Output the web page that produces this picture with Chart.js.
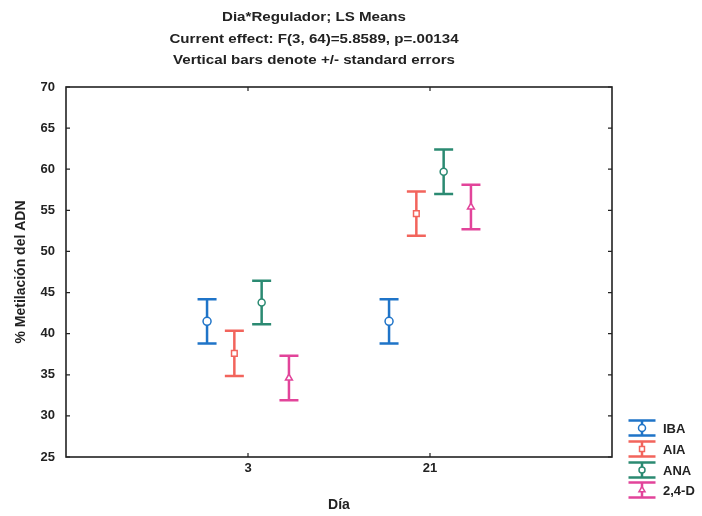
<!DOCTYPE html>
<html>
<head>
<meta charset="utf-8">
<script src="https://cdn.jsdelivr.net/npm/chart.js@4/dist/chart.umd.min.js"></script>
<style>
  html, body { margin: 0; padding: 0; background: #fff; }
  #wrap { width: 702px; height: 516px; }
</style>
</head>
<body>
<div id="wrap"><canvas id="c" width="702" height="516"></canvas></div>
<script>
// Día (categories) and regulators (series)
const days = ['3', '21'];
const regulators = ['IBA', 'AIA', 'ANA', '2,4-D'];

// LS means of % DNA methylation, one value per day
const meanIBA = [41.5, 41.5];
const meanAIA = [37.6, 54.6];
const meanANA = [43.8, 59.7];
const meanD24 = [34.6, 55.4];

// standard errors, one value per day
const seIBA = [2.7, 2.7];
const seAIA = [2.75, 2.7];
const seANA = [2.65, 2.7];
const seD24 = [2.7, 2.7];

// y axis tick values
const yTicks = [25, 30, 35, 40, 45, 50, 55, 60, 65, 70];

const titleLines = [
  'Dia*Regulador; LS Means',
  'Current effect: F(3, 64)=5.8589, p=.00134',
  'Vertical bars denote +/- standard errors'
];

const means = [meanIBA, meanAIA, meanANA, meanD24];
const errors = [seIBA, seAIA, seANA, seD24];
const colors = ['#1f74c8', '#f2645c', '#2b8a72', '#e2449a'];
const markers = ['circle', 'rect', 'circle', 'triangle'];
const markerRadius = [4, 4, 3.5, 4];
const dodge = [-0.225, -0.075, 0.075, 0.225];

const FONT = '"Liberation Sans", Arial, sans-serif';
const INK = '#222';

const datasets = regulators.map((name, k) => ({
  label: name,
  data: days.map((d, i) => ({ x: i + 1 + dodge[k], y: means[k][i], se: errors[k][i] })),
  pointStyle: markers[k],
  pointRadius: markerRadius[k],
  pointBorderWidth: 1.5,
  borderColor: colors[k],
  backgroundColor: '#fff',
  showLine: false
}));

function drawMarker(ctx, style, x, y, r, color) {
  ctx.save();
  ctx.fillStyle = '#fff';
  ctx.strokeStyle = color;
  ctx.lineWidth = 1.5;
  Chart.helpers.drawPoint(ctx, { pointStyle: style, rotation: 0, radius: r, borderWidth: 1.5 }, x, y);
  ctx.restore();
}

// vertical error bars, drawn under the markers
const errorBars = {
  id: 'errorBars',
  beforeDatasetsDraw(chart) {
    const ctx = chart.ctx;
    const ys = chart.scales.y;
    chart.data.datasets.forEach((ds, k) => {
      const meta = chart.getDatasetMeta(k);
      meta.data.forEach((pt, i) => {
        const p = ds.data[i];
        const top = ys.getPixelForValue(p.y + p.se);
        const bot = ys.getPixelForValue(p.y - p.se);
        ctx.save();
        ctx.strokeStyle = ds.borderColor;
        ctx.lineWidth = 2.5;
        ctx.beginPath();
        ctx.moveTo(pt.x, top); ctx.lineTo(pt.x, bot);
        ctx.moveTo(pt.x - 9.5, top); ctx.lineTo(pt.x + 9.5, top);
        ctx.moveTo(pt.x - 9.5, bot); ctx.lineTo(pt.x + 9.5, bot);
        ctx.stroke();
        ctx.restore();
      });
    });
  }
};

// boxed frame with inward tick marks, title block and legend
const decorations = {
  id: 'decorations',
  afterDraw(chart) {
    const ctx = chart.ctx;
    const a = chart.chartArea;
    const xs = chart.scales.x, ys = chart.scales.y;

    ctx.save();
    ctx.strokeStyle = INK;
    ctx.lineWidth = 1.6;
    ctx.strokeRect(a.left, a.top, a.right - a.left, a.bottom - a.top);
    ctx.lineWidth = 1.2;
    ctx.beginPath();
    yTicks.forEach(v => {
      const y = ys.getPixelForValue(v);
      ctx.moveTo(a.left, y); ctx.lineTo(a.left + 4, y);
      ctx.moveTo(a.right, y); ctx.lineTo(a.right - 4, y);
    });
    days.forEach((d, i) => {
      const x = xs.getPixelForValue(i + 1);
      ctx.moveTo(x, a.bottom); ctx.lineTo(x, a.bottom - 4);
      ctx.moveTo(x, a.top); ctx.lineTo(x, a.top + 4);
    });
    ctx.stroke();

    // title block, set slightly wide
    ctx.fillStyle = INK;
    ctx.font = 'bold 13.5px ' + FONT;
    ctx.textAlign = 'center';
    ctx.textBaseline = 'alphabetic';
    const baselines = [21, 43, 64];
    const widen = 1.12;
    titleLines.forEach((t, i) => {
      ctx.save();
      ctx.translate(314, baselines[i]);
      ctx.scale(widen, 1);
      ctx.fillText(t, 0, 0);
      ctx.restore();
    });

    // legend
    const rows = [428, 449, 470, 490];
    regulators.forEach((name, k) => {
      const cx = 642, cy = rows[k];
      ctx.strokeStyle = colors[k];
      ctx.lineWidth = 2.5;
      ctx.beginPath();
      ctx.moveTo(cx, cy - 7.5); ctx.lineTo(cx, cy + 7.5);
      ctx.moveTo(cx - 13.5, cy - 7.5); ctx.lineTo(cx + 13.5, cy - 7.5);
      ctx.moveTo(cx - 13.5, cy + 7.5); ctx.lineTo(cx + 13.5, cy + 7.5);
      ctx.stroke();
      drawMarker(ctx, markers[k], cx, cy, markerRadius[k] - 0.5, colors[k]);
      ctx.fillStyle = INK;
      ctx.font = 'bold 13px ' + FONT;
      ctx.textAlign = 'left';
      ctx.textBaseline = 'middle';
      ctx.fillText(name, 663, cy + 1);
    });
    ctx.restore();
  }
};

Chart.defaults.font.family = FONT;
Chart.defaults.color = INK;

new Chart(document.getElementById('c'), {
  type: 'scatter',
  data: { datasets },
  options: {
    responsive: false,
    animation: false,
    devicePixelRatio: 1,
    layout: { padding: { top: 87, right: 90, left: 0, bottom: 0 } },
    plugins: {
      legend: { display: false },
      title: { display: false },
      tooltip: { enabled: false }
    },
    elements: { point: { radius: 4, borderWidth: 1.5 } },
    scales: {
      x: {
        type: 'linear',
        min: 0,
        max: 3,
        afterBuildTicks(s) { s.ticks = days.map((d, i) => ({ value: i + 1 })); },
        afterFit(s) { s.height = 59; },
        grid: { display: false, drawTicks: false },
        border: { display: false },
        ticks: {
          padding: 4,
          font: { size: 13, weight: 'bold' },
          callback: v => days[Math.round(v) - 1]
        },
        title: {
          display: true,
          text: 'Día',
          font: { size: 14, weight: 'bold' },
          padding: { top: 0, bottom: 2 }
        }
      },
      y: {
        min: 25,
        max: 70,
        afterBuildTicks(s) { s.ticks = yTicks.map(v => ({ value: v })); },
        afterFit(s) { s.width = 66; },
        grid: { display: false, drawTicks: false },
        border: { display: false },
        ticks: { padding: 11, font: { size: 13, weight: 'bold' } },
        title: {
          display: true,
          text: '% Metilación del ADN',
          font: { size: 14, weight: 'bold' },
          padding: { top: 13, bottom: 0 }
        }
      }
    }
  },
  plugins: [errorBars, decorations]
});
</script>
</body>
</html>
